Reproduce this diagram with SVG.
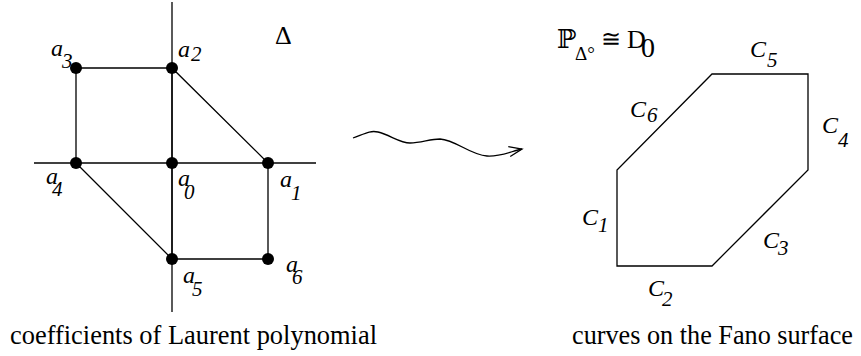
<svg xmlns="http://www.w3.org/2000/svg" width="861" height="356" viewBox="0 0 861 356">
<style>
.ln{stroke:#000;stroke-width:1.3;fill:none}
.dot{fill:#000}
.it{font-family:"Liberation Serif","DejaVu Serif",serif;font-style:italic;font-size:24px;fill:#000}
.sb{font-family:"Liberation Serif","DejaVu Serif",serif;font-style:italic;font-size:21px;fill:#000}
.rm{font-family:"Liberation Serif","DejaVu Serif",serif;font-size:26px;fill:#000}
.cap{font-family:"Liberation Serif",serif;font-size:28px;fill:#000}
</style>
<defs>
<marker id="open" markerWidth="16" markerHeight="14" refX="14" refY="7" orient="auto" markerUnits="userSpaceOnUse">
<path d="M1,2 L14,7 L1,12" fill="none" stroke="#000" stroke-width="1.3"/>
</marker>
</defs>
<g id="axes">
<line class="ln" x1="172" y1="2" x2="172" y2="312"/>
<line class="ln" x1="34" y1="163" x2="316" y2="163"/>
</g>
<g id="connectors">
<polyline class="ln" points="76,163 76,68 172,68 268,163 268,259 172,259 76,163"/>
<line class="ln" x1="172" y1="68" x2="172" y2="259"/>
<path class="ln" d="M353,138 C364,134 370,130 378,132 C390,135 400,143 410,143 C421,143 430,139 440,139 C456,140 470,155 487,156 C500,157 512,151 522,149" marker-end="url(#open)"/>
</g>
<g id="a0"><circle class="dot" cx="172" cy="163" r="6"/><text class="it" x="178" y="186">a</text><text class="sb" x="184" y="199">0</text></g>
<g id="a1"><circle class="dot" cx="268" cy="163" r="6"/><text class="it" x="280" y="187">a</text><text class="sb" x="291" y="200">1</text></g>
<g id="a2"><circle class="dot" cx="172" cy="68" r="6"/><text class="it" x="178" y="57">a</text><text class="sb" x="191" y="61">2</text></g>
<g id="a3"><circle class="dot" cx="76" cy="68" r="6"/><text class="it" x="51" y="56">a</text><text class="sb" x="62" y="68">3</text></g>
<g id="a4"><circle class="dot" cx="76" cy="163" r="6"/><text class="it" x="46" y="184">a</text><text class="sb" x="52" y="196">4</text></g>
<g id="a5"><circle class="dot" cx="172" cy="259" r="6"/><text class="it" x="183" y="283">a</text><text class="sb" x="192" y="296">5</text></g>
<g id="a6"><circle class="dot" cx="268" cy="259" r="6"/><text class="it" x="286" y="272">a</text><text class="sb" x="292" y="284">6</text></g>
<g id="delta"><text class="rm" x="275" y="44" style="font-size:26px">Δ</text></g>
<g id="hexagon">
<polygon class="ln" points="712,74 808,74 808,170 712,266 617,266 617,170"/>
<text class="it" x="750" y="57">C</text><text class="sb" x="767" y="67">5</text>
<text class="it" x="630" y="117">C</text><text class="sb" x="647" y="122">6</text>
<text class="it" x="822" y="133">C</text><text class="sb" x="838" y="147">4</text>
<text class="it" x="582" y="225">C</text><text class="sb" x="598" y="232">1</text>
<text class="it" x="763" y="248">C</text><text class="sb" x="778" y="255">3</text>
<text class="it" x="648" y="296">C</text><text class="sb" x="662" y="306">2</text>
</g>
<g id="formula">
<text class="rm" x="557" y="48" style="font-family:'DejaVu Serif',serif;font-size:26px">ℙ</text>
<text class="rm" x="575" y="60" style="font-size:19px">Δ°</text>
<text class="rm" x="601" y="47" style="font-size:24px">≅</text>
<text class="rm" x="627" y="48">D</text>
<text class="rm" x="641" y="57" style="font-size:28px">0</text>
</g>
<g id="captions">
<text class="cap" x="10" y="344" textLength="367" lengthAdjust="spacingAndGlyphs">coefficients of Laurent polynomial</text>
<text class="cap" x="572" y="344" textLength="281" lengthAdjust="spacingAndGlyphs">curves on the Fano surface</text>
</g>
</svg>
